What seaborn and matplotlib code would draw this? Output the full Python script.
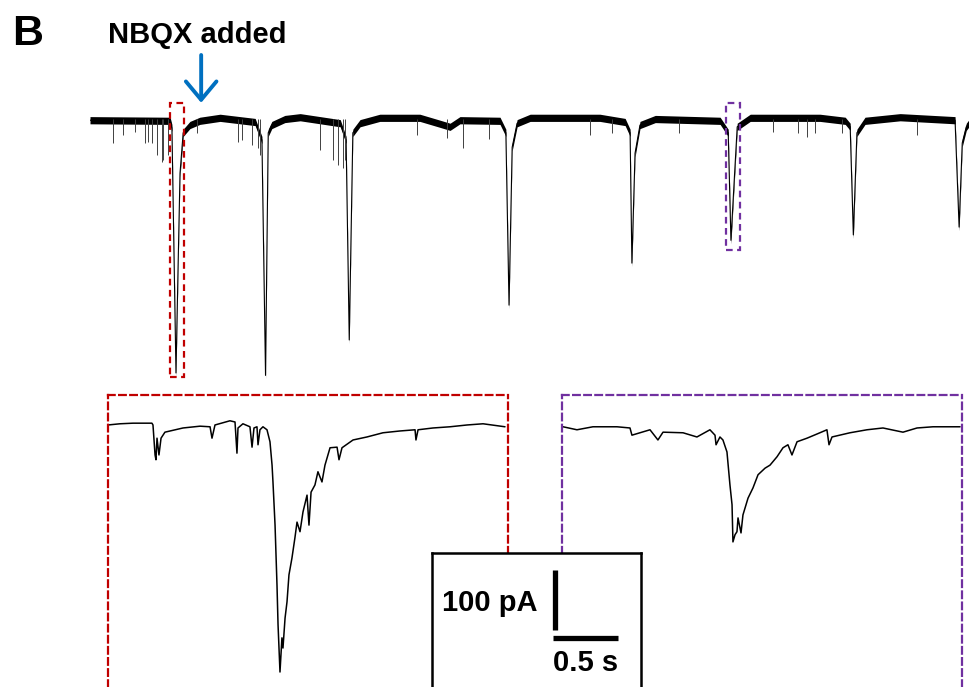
import matplotlib
matplotlib.use('Agg')
import numpy as np
import pandas as pd
import matplotlib.pyplot as plt
from matplotlib.patches import Rectangle
import seaborn as sns

sns.set_style('white')
plt.rcParams['font.family'] = ['Liberation Sans', 'DejaVu Sans']
plt.rcParams['text.color'] = 'black'

W, H = 969, 687
RED = '#C00000'
PURPLE = '#7030A0'
BLUE = '#0070C0'

# whole recording (s, pA), big events
top_t = [0.0, 17.8, 18.2, 19.1, 19.6, 20.0, 20.7, 22.2, 24.4, 28.9, 36.7, 38.2,
         39.0, 39.6, 40.4, 43.3, 46.7, 55.6, 56.9, 57.6, 58.4, 60.0, 64.4, 73.3,
         77.8, 80.0, 82.2, 91.1, 92.4, 93.1, 93.8, 94.9, 97.8, 113.3, 118.9, 120.0,
         120.4, 121.1, 122.2, 125.6, 140.0, 141.8, 142.4, 143.3, 143.8, 146.7, 162.2,
         167.8, 168.9, 169.6, 170.4, 172.2, 180.0, 192.2, 193.1, 193.8, 194.7, 195.3]
top_i = [-2, -3, -15, -423, -235, -90, -23, -10, -3, 2, -5, -35,
         -427, -23, -10, 0, 3, -7, -35, -368, -23, -7, 2, 2,
         -8, -13, -2, -3, -23, -310, -47, -7, 2, 2, -5, -23,
         -240, -57, -10, 0, -3, -23, -202, -80, -13, 2, 2,
         -3, -13, -193, -23, -3, 3, -2, -180, -40, -13, -7]

# small spontaneous events on the long trace (s, pA)
mini_t = [5.1, 7.3, 10.0, 12.2, 12.9, 13.8, 14.9, 16.0, 16.2, 17.3, 23.8, 32.9,
          33.8, 36.0, 37.3, 37.8, 51.1, 54.0, 55.1, 56.2, 56.7, 72.7, 79.3, 82.9,
          88.7, 111.1, 116.0, 130.9, 151.8, 157.3, 159.3, 161.1, 167.1, 183.8]
mini_i = [-40, -27, -22, -40, -38, -40, -60, -72, -68, -60, -23, -38,
          -35, -43, -48, -60, -52, -68, -77, -82, -68, -27, -32, -48,
          -33, -27, -23, -23, -22, -23, -30, -23, -23, -27]

# expanded view, before NBQX (s, pA)
pre_t = [0.000, 0.092, 0.192, 0.338, 0.346, 0.362, 0.369, 0.377, 0.392, 0.408, 0.438,
         0.577, 0.708, 0.785, 0.800, 0.823, 0.938, 0.977, 0.992, 1.000, 1.038, 1.092,
         1.108, 1.123, 1.146, 1.154, 1.169, 1.192, 1.223, 1.246, 1.262, 1.269, 1.285,
         1.300, 1.308, 1.323, 1.338, 1.346, 1.362, 1.377, 1.392, 1.415, 1.438, 1.454,
         1.477, 1.500, 1.531, 1.546, 1.562, 1.592, 1.615, 1.646, 1.669, 1.708, 1.762,
         1.777, 1.800, 1.885, 1.992, 2.115, 2.246, 2.362, 2.369, 2.385, 2.500, 2.631,
         2.762, 2.885, 3.054]
pre_i = [0, 2, 3, 3, 0, -50, -58, -22, -50, -22, -12,
         -5, -2, -3, -22, 0, 7, 5, -47, -5, 2, -3,
         -37, -5, -3, -33, -8, -3, -8, -28, -67, -95, -167,
         -267, -333, -412, -355, -372, -322, -295, -250, -222, -188, -162,
         -178, -145, -117, -167, -112, -100, -78, -95, -67, -38, -37,
         -58, -38, -25, -20, -13, -10, -8, -25, -8, -5, -3,
         0, 2, -3]

# expanded view, after NBQX (s, pA)
post_t = [0.008, 0.115, 0.238, 0.423, 0.523, 0.538, 0.677, 0.738, 0.777, 0.931, 1.038,
          1.138, 1.177, 1.185, 1.215, 1.238, 1.269, 1.292, 1.308, 1.315, 1.331, 1.346,
          1.354, 1.377, 1.392, 1.431, 1.469, 1.508, 1.562, 1.600, 1.654, 1.700, 1.738,
          1.769, 1.808, 1.885, 1.962, 2.038, 2.054, 2.077, 2.215, 2.346, 2.469, 2.623,
          2.731, 2.854, 3.062]
post_i = [2, -3, 2, 2, 0, -12, -3, -20, -7, -8, -15,
          -3, -12, -28, -15, -20, -40, -95, -128, -190, -178, -173,
          -150, -175, -145, -117, -100, -78, -67, -62, -48, -33, -28,
          -45, -23, -17, -10, -3, -28, -15, -8, -3, 0, -7,
          0, 2, 2]

nbqx_time = 24.7
pre_window = (17.8, 20.9)
post_window = (141.3, 144.4)


def px_box(x0, y0, x1, y1):
    return [x0 / W, 1 - y1 / H, (x1 - x0) / W, (y1 - y0) / H]


fig = plt.figure(figsize=(W / 100, H / 100), dpi=100)

# long trace
ax = fig.add_axes(px_box(90, 95, 969, 385))
df_top = pd.DataFrame({'t': top_t, 'i': top_i})
ax.fill_between(df_top.t, df_top.i - 6, df_top.i + 6, color='black', lw=0)
sns.lineplot(data=df_top, x='t', y='i', sort=False, estimator=None,
             color='black', lw=0.8, ax=ax)
ax.vlines(mini_t, 0, mini_i, color='0.25', lw=0.7)
for (a, b), c, bottom in [(pre_window, RED, -430), (post_window, PURPLE, -218)]:
    ax.add_patch(Rectangle((a, bottom), b - a, 27 - bottom, fill=False,
                           ec=c, lw=1.6, ls=(0, (3, 2)), zorder=3))
ax.annotate('', xy=(nbqx_time, 27), xycoords='data',
            xytext=(nbqx_time, 1 - 55 / H), textcoords=('data', 'figure fraction'),
            arrowprops=dict(arrowstyle='->, head_width=0.5, head_length=0.6',
                            color=BLUE, lw=2.8, mutation_scale=22,
                            shrinkA=0, shrinkB=0),
            annotation_clip=False)
ax.set_xlim(0, 195.3)
ax.set_ylim(-443, 40)
ax.axis('off')

# expanded traces
for box, t, i, c, ylim in [((108, 395, 508, 687), pre_t, pre_i, RED, (-437, 50)),
                           ((562, 395, 962, 687), post_t, post_i, PURPLE, (-432, 55))]:
    axi = fig.add_axes(px_box(*box))
    sns.lineplot(x=t, y=i, sort=False, estimator=None, color='black', lw=1.1, ax=axi)
    axi.set_xlim(0, 3.077)
    axi.set_ylim(*ylim)
    axi.set_xticks([])
    axi.set_yticks([])
    axi.set_xlabel('')
    axi.set_ylabel('')
    axi.patch.set_alpha(0)
    axi.spines['bottom'].set_visible(False)
    for s in ['left', 'top', 'right']:
        axi.spines[s].set_color(c)
        axi.spines[s].set_linewidth(1.6)
        axi.spines[s].set_linestyle((0, (3, 2)))

# scale bar
axs = fig.add_axes(px_box(432, 553, 641, 687))
axs.set_zorder(5)
axs.set_facecolor('white')
axs.set_xlim(0, 209 / 130)
axs.set_ylim(0, 134 * 1.667)
axs.set_xticks([])
axs.set_yticks([])
for s in axs.spines.values():
    s.set_color('black')
    s.set_linewidth(1.8)
axs.spines['bottom'].set_visible(False)
axs.plot([0.946, 0.946], [95, 195], color='black', lw=3.8, solid_capstyle='butt')
axs.plot([0.931, 1.431], [82, 82], color='black', lw=3.8, solid_capstyle='butt')
axs.text(0.808, 140, '100 pA', ha='right', va='center', fontsize=21, fontweight='bold')
axs.text(1.18, 40, '0.5 s', ha='center', va='center', fontsize=21, fontweight='bold')

fig.text(12 / W, 1 - 45 / H, 'B', fontsize=31, fontweight='bold', va='baseline')
fig.text(197 / W, 1 - 43 / H, 'NBQX added', fontsize=21, fontweight='bold',
         ha='center', va='baseline')

fig.savefig('out.png', dpi=100)
